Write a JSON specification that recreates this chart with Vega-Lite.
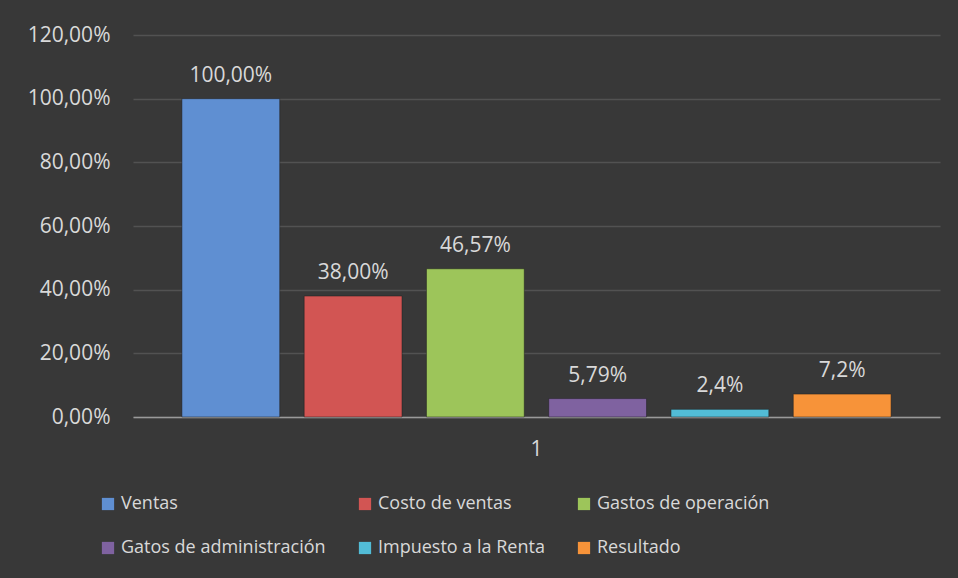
{
  "$schema": "https://vega.github.io/schema/vega-lite/v6.json",
  "autosize": {"type": "none"},
  "width": 807,
  "height": 382,
  "padding": {"left": 133, "top": 35, "right": 18, "bottom": 161},
  "background": "#383838",
  "config": {
    "view": {"stroke": null},
    "font": "Open Sans",
    "axis": {"labelFont": "Open Sans", "labelFontSize": 21, "labelColor": "#d9d9d9"},
    "legend": {"labelFont": "Open Sans", "labelFontSize": 18, "labelColor": "#d9d9d9"}
  },
  "data": {
    "values": [
      {"grupo": "1", "categoria": "Ventas", "valor": 1.0, "etiqueta": "100,00%"},
      {"grupo": "1", "categoria": "Costo de ventas", "valor": 0.38, "etiqueta": "38,00%"},
      {"grupo": "1", "categoria": "Gastos de operación", "valor": 0.4657, "etiqueta": "46,57%"},
      {"grupo": "1", "categoria": "Gatos de administración", "valor": 0.0579, "etiqueta": "5,79%"},
      {"grupo": "1", "categoria": "Impuesto a la Renta", "valor": 0.024, "etiqueta": "2,4%"},
      {"grupo": "1", "categoria": "Resultado", "valor": 0.072, "etiqueta": "7,2%"}
    ]
  },
  "encoding": {
    "x": {
      "field": "grupo", "type": "nominal",
      "scale": {"paddingInner": 0, "paddingOuter": 0},
      "axis": {"title": null, "labelAngle": 0, "ticks": false, "domainColor": "#9a9a9a", "domainWidth": 1.5, "labelPadding": 21, "grid": false}
    },
    "xOffset": {
      "field": "categoria", "type": "nominal",
      "sort": ["Ventas", "Costo de ventas", "Gastos de operación", "Gatos de administración", "Impuesto a la Renta", "Resultado"],
      "scale": {"paddingInner": 0.2, "paddingOuter": 0.4}
    },
    "y": {
      "field": "valor", "type": "quantitative",
      "scale": {"domain": [0, 1.2], "nice": false},
      "axis": {
        "title": null, "values": [0, 0.2, 0.4, 0.6, 0.8, 1.0, 1.2],
        "labelExpr": "replace(format(datum.value, '.2%'), '.', ',')",
        "ticks": false, "domain": false, "labelPadding": 23,
        "gridColor": "#525252", "gridWidth": 1.5
      }
    }
  },
  "layer": [
    {
      "mark": {"type": "bar", "stroke": "#1e1e1e", "strokeWidth": 1, "strokeOpacity": 0.5},
      "encoding": {
        "color": {
          "field": "categoria", "type": "nominal",
          "scale": {
            "domain": ["Ventas", "Costo de ventas", "Gastos de operación", "Gatos de administración", "Impuesto a la Renta", "Resultado"],
            "range": ["#5f8fd2", "#d25553", "#9dc55a", "#7f62a0", "#52bcd6", "#f79339"]
          },
          "legend": {
            "title": null, "orient": "none", "legendX": -34, "legendY": 460,
            "direction": "horizontal", "columns": 3, "gridAlign": "each",
            "symbolType": "square", "symbolSize": 150, "symbolStrokeWidth": 0,
            "labelOffset": 4, "columnPadding": 30, "rowPadding": 26, "labelLimit": 400
          }
        }
      }
    },
    {
      "mark": {"type": "text", "baseline": "alphabetic", "dy": -17, "fontSize": 21, "color": "#d9d9d9", "font": "Open Sans"},
      "encoding": {"text": {"field": "etiqueta", "type": "nominal"}}
    }
  ]
}
